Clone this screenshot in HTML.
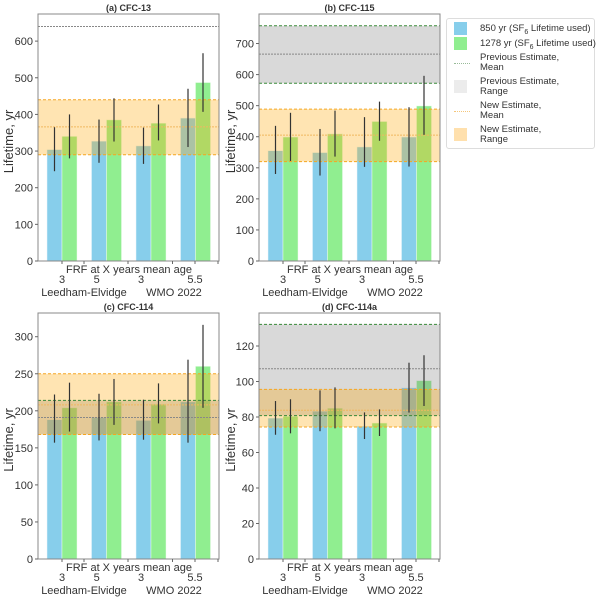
<!DOCTYPE html>
<html><head><meta charset="utf-8"><style>
body{margin:0;background:#fff;}
svg text{font-family:"Liberation Sans",sans-serif;fill:#333;}
</style></head><body>
<svg id="chart" width="600" height="600" xmlns="http://www.w3.org/2000/svg"></svg>
<script>
const categories = ["LE 3","LE 5","WMO 3","WMO 5.5"];
const xTickLabels = ["3","5","3","5.5"];
const panelTitles = ["(a) CFC-13","(b) CFC-115","(c) CFC-114","(d) CFC-114a"];
// 850 yr series (value, low, high)
const blueA = [304,327,314,390], blueALo=[245,268,265,311], blueAHi=[365,386,364,470];
const greenA = [340,385,376,487], greenALo=[280,326,329,407], greenAHi=[400,444,427,567];
const blueB = [355,349,367,399], blueBLo=[280,275,303,304], blueBHi=[435,425,463,495];
const greenB = [399,409,449,499], greenBLo=[322,336,387,406], greenBHi=[477,484,513,596];
const blueC = [188,191,187,212], blueCLo=[157,160,161,157], blueCHi=[222,223,215,269];
const greenC = [204,212,209,260], greenCLo=[172,181,183,204], greenCHi=[238,243,237,316];
const blueD = [79.4,83.2,74.8,96.4], blueDLo=[70,72,67.6,82.5], blueDHi=[89,95,82.6,110.6];
const greenD = [80.4,84.9,76.6,100.5], greenDLo=[70.8,73.6,69.3,86.2], greenDHi=[90,96.7,84.3,114.8];
// estimates [low, mean, high]
const newEst = [[290,366,440],[320,405,489],[168,208,250],[74.4,83.8,95.6]];
const prevEst = [[null,640,null],[572,666,757],[168,191,214],[80.8,107.2,132.2]];
const yMax = [674,795,332,138.6];
const yTicks = [[0,100,200,300,400,500,600],[0,100,200,300,400,500,600,700],[0,50,100,150,200,250,300],[0,20,40,60,80,100,120]];

const NS="http://www.w3.org/2000/svg";
const svg=document.getElementById('chart');
function mk(tag,attrs,parent){const e=document.createElementNS(NS,tag);for(const k in attrs)e.setAttribute(k,attrs[k]);(parent||svg).appendChild(e);return e;}

const panels=[
 {x0:38,x1:219,y0:14,y1:261,lx:9,b:blueA,bl:blueALo,bh:blueAHi,g:greenA,gl:greenALo,gh:greenAHi},
 {x0:259,x1:440,y0:14,y1:261,lx:231,b:blueB,bl:blueBLo,bh:blueBHi,g:greenB,gl:greenBLo,gh:greenBHi},
 {x0:38,x1:219,y0:313,y1:559,lx:9,b:blueC,bl:blueCLo,bh:blueCHi,g:greenC,gl:greenCLo,gh:greenCHi},
 {x0:259,x1:440,y0:313,y1:559,lx:231,b:blueD,bl:blueDLo,bh:blueDHi,g:greenD,gl:greenDLo,gh:greenDHi}
];
panels.forEach((p,i)=>{
 const grp=mk('g',{});
 
 
 const ys=v=>p.y1-(v/yMax[i])*(p.y1-p.y0);
 const xc=k=>p.x0+24+k*44.5;
 // bars
 categories.forEach((c,k)=>{
  const b=mk('rect',{x:xc(k)-15,y:ys(p.b[k]),width:15,height:p.y1-ys(p.b[k]),fill:'#87ceeb',stroke:'#eaf6fb','stroke-width':0.5},grp);
  
  
  const g=mk('rect',{x:xc(k),y:ys(p.g[k]),width:15,height:p.y1-ys(p.g[k]),fill:'#90ee90',stroke:'#eafbea','stroke-width':0.5},grp);
  
  
 });
 // bands
 const pe=prevEst[i], ne=newEst[i];
 if(pe[0]!==null){
  const r=mk('rect',{x:p.x0,y:ys(pe[2]),width:p.x1-p.x0,height:ys(pe[0])-ys(pe[2]),fill:'#808080','fill-opacity':0.3},grp);
  
  
 }
 const o=mk('rect',{x:p.x0,y:ys(ne[2]),width:p.x1-p.x0,height:ys(ne[0])-ys(ne[2]),fill:'#ffa500','fill-opacity':0.3},grp);
 
 
 const hl=(v,col,dash,w)=>mk('line',{x1:p.x0,x2:p.x1,y1:ys(v),y2:ys(v),stroke:col,'stroke-dasharray':dash,'stroke-width':w||1},grp);
 if(pe[0]!==null){hl(pe[0],'#3a8a3a','3,2');hl(pe[2],'#3a8a3a','3,2');}
 hl(pe[1],'#888','2,1');
 hl(ne[0],'#f5a623','3,2');hl(ne[2],'#f5a623','3,2');hl(ne[1],'#f0b860','2,1');
 // error bars
 categories.forEach((c,k)=>{
  const e1=mk('line',{x1:xc(k)-7.5,x2:xc(k)-7.5,y1:ys(p.bl[k]),y2:ys(p.bh[k]),stroke:'#333','stroke-width':1.2},grp);
  
  
  const e2=mk('line',{x1:xc(k)+7.5,x2:xc(k)+7.5,y1:ys(p.gl[k]),y2:ys(p.gh[k]),stroke:'#333','stroke-width':1.2},grp);
  
  
 });
 // frame
 mk('rect',{x:p.x0,y:p.y0,width:p.x1-p.x0,height:p.y1-p.y0,fill:'none',stroke:'#888','stroke-width':1},grp);
 // y ticks
 yTicks[i].forEach(t=>{
  mk('line',{x1:p.x0-3,x2:p.x0,y1:ys(t),y2:ys(t),stroke:'#666'},grp);
  const tx=mk('text',{x:p.x0-5,y:ys(t)+4,'text-anchor':'end','font-size':11},grp);
  tx.textContent=t;
  
  
 });
 // x ticks
 [24,46,90,134.5,157,180].forEach(d=>mk('line',{x1:p.x0+d,x2:p.x0+d,y1:p.y1,y2:p.y1+3,stroke:'#666'},grp));
 const xl=[24,58.7,103,157];
 xTickLabels.forEach((t,k)=>{
  const tx=mk('text',{x:p.x0+xl[k],y:p.y1+22,'text-anchor':'middle','font-size':11},grp);
  tx.textContent=t;
  
  
 });
 const xt=mk('text',{x:p.x0+91,y:p.y1+12,'text-anchor':'middle','font-size':11},grp);
 xt.textContent='FRF at X years mean age';
 
 
 const s1=mk('text',{x:p.x0+46,y:p.y1+35,'text-anchor':'middle','font-size':11},grp);
 s1.textContent='Leedham-Elvidge';
 
 
 const s2=mk('text',{x:p.x0+136,y:p.y1+35,'text-anchor':'middle','font-size':11},grp);
 s2.textContent='WMO 2022';
 
 
 const cy=(p.y0+p.y1)/2;
 const yl=mk('text',{x:p.lx,y:cy,'text-anchor':'middle','font-size':13,transform:'rotate(-90 '+(p.lx+4)+' '+cy+')'},grp);
 yl.textContent='Lifetime, yr';
 
 
 const tt=mk('text',{x:(p.x0+p.x1)/2,y:p.y0-3,'text-anchor':'middle','font-size':9,'font-weight':'bold'},grp);
 tt.textContent=panelTitles[i];
 
 
});
</script>
<div style="position:absolute;left:446px;top:18px;width:147px;height:129px;border:1px solid #ddd;border-radius:3px;background:#fff;font-family:'Liberation Sans',sans-serif;font-size:9.5px;color:#333;line-height:10px;">
 <div style="position:absolute;left:7px;top:3px;"><span style="position:absolute;left:0;top:0;width:13px;height:13px;background:#87ceeb;"></span><span style="position:absolute;left:26px;top:2px;white-space:nowrap;">850 yr (SF<sub style="font-size:7px">6</sub> Lifetime used)</span></div>
 <div style="position:absolute;left:7px;top:18px;"><span style="position:absolute;left:0;top:0;width:13px;height:13px;background:#90ee90;"></span><span style="position:absolute;left:26px;top:2px;white-space:nowrap;">1278 yr (SF<sub style="font-size:7px">6</sub> Lifetime used)</span></div>
 <div style="position:absolute;left:7px;top:34px;"><span style="position:absolute;left:0;top:10px;width:16px;border-top:1px dotted #9b9;"></span><span style="position:absolute;left:26px;top:0;white-space:nowrap;">Previous Estimate,<br>Mean</span></div>
 <div style="position:absolute;left:7px;top:58px;"><span style="position:absolute;left:0;top:3px;width:13px;height:13px;background:#ececec;"></span><span style="position:absolute;left:26px;top:0;white-space:nowrap;">Previous Estimate,<br>Range</span></div>
 <div style="position:absolute;left:7px;top:82px;"><span style="position:absolute;left:0;top:10px;width:16px;border-top:1px dotted #f5c67a;"></span><span style="position:absolute;left:26px;top:0;white-space:nowrap;">New Estimate,<br>Mean</span></div>
 <div style="position:absolute;left:7px;top:106px;"><span style="position:absolute;left:0;top:3px;width:13px;height:13px;background:#ffe0ad;"></span><span style="position:absolute;left:26px;top:0;white-space:nowrap;">New Estimate,<br>Range</span></div>
</div>
</body></html>
